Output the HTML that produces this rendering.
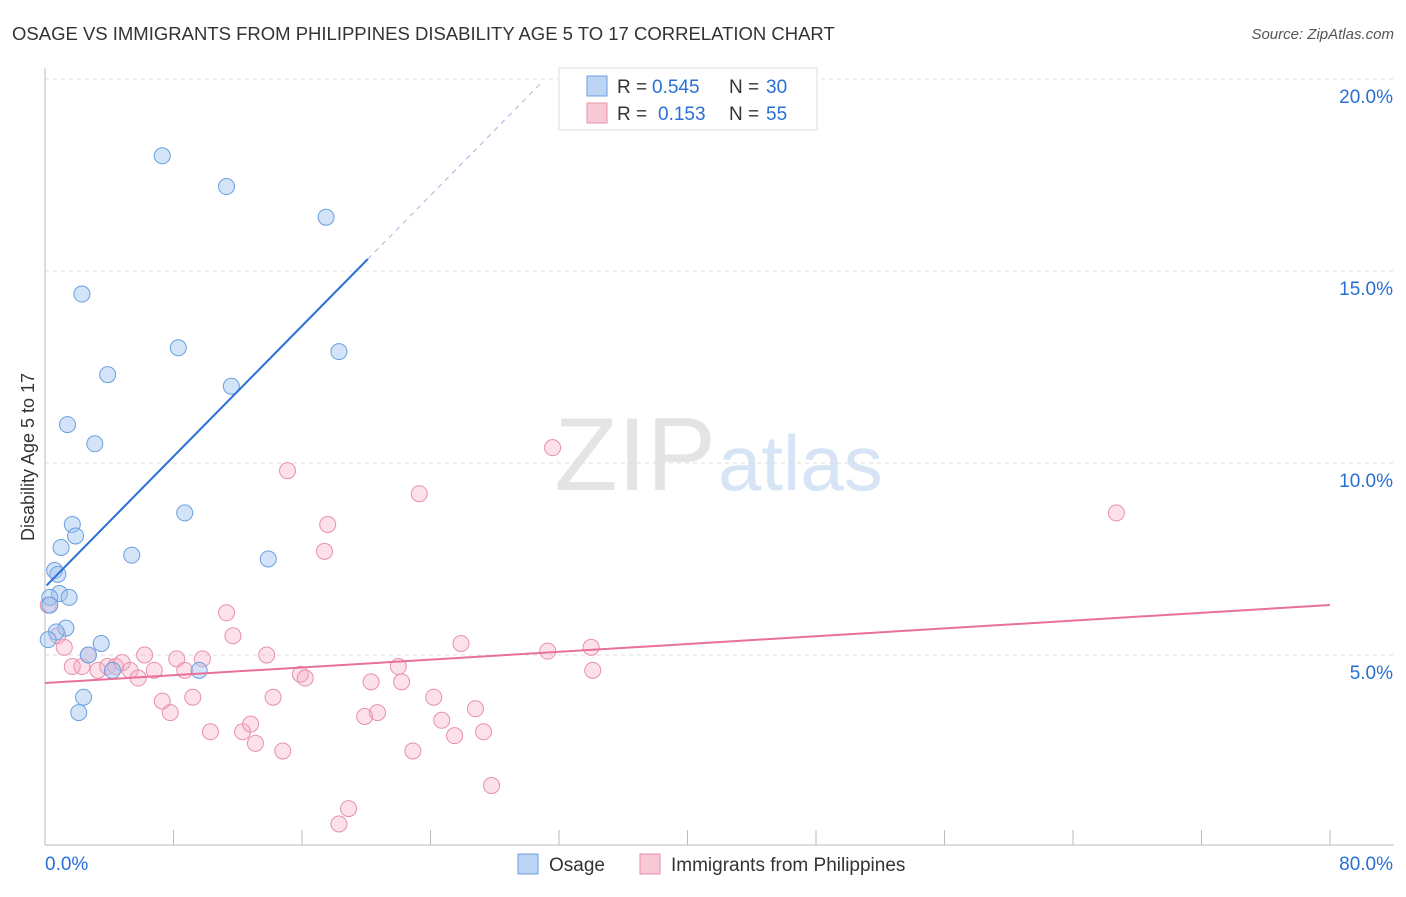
<!DOCTYPE html>
<html><head><meta charset="utf-8"><style>
body{margin:0;background:#fff;font-family:"Liberation Sans",sans-serif;}
svg text{font-family:"Liberation Sans",sans-serif;}
</style></head><body>
<svg id="c" width="1406" height="892" xmlns="http://www.w3.org/2000/svg">
<text x="12" y="40" font-size="18.5" fill="#333">OSAGE VS IMMIGRANTS FROM PHILIPPINES DISABILITY AGE 5 TO 17 CORRELATION CHART</text>
<text x="1394" y="39" font-size="15" fill="#555" font-style="italic" text-anchor="end">Source: ZipAtlas.com</text>
<text x="716" y="490" font-size="104" fill="#e4e4e4" font-family="Liberation Serif" text-anchor="end">ZIP</text>
<text x="718" y="490" font-size="78" fill="#d6e4f5">atlas</text>
<g id="grid"></g><g id="axes"></g><g id="marks"></g>
<g>
<rect x="559" y="68" width="258" height="62" fill="#fff" stroke="#ddd"/>
<rect x="587" y="76" width="20" height="20" fill="#bcd5f5" stroke="#6a9fe0"/>
<text x="617" y="93" font-size="19" fill="#333">R = </text><text x="652" y="93" font-size="19" fill="#2a6fd6">0.545</text>
<text x="729" y="93" font-size="19" fill="#333">N = </text><text x="766" y="93" font-size="19" fill="#2a6fd6">30</text>
<rect x="587" y="103" width="20" height="20" fill="#f9c8d7" stroke="#e890ab"/>
<text x="617" y="120" font-size="19" fill="#333">R = </text><text x="658" y="120" font-size="19" fill="#2a6fd6">0.153</text>
<text x="729" y="120" font-size="19" fill="#333">N = </text><text x="766" y="120" font-size="19" fill="#2a6fd6">55</text>
</g>
<g>
<rect x="518" y="854" width="20" height="20" fill="#bcd5f5" stroke="#6a9fe0"/>
<text x="549" y="871" font-size="19" fill="#333">Osage</text>
<rect x="640" y="854" width="20" height="20" fill="#f9c8d7" stroke="#e890ab"/>
<text x="671" y="871" font-size="19" fill="#333">Immigrants from Philippines</text>
</g>
<text transform="translate(34,457) rotate(-90)" font-size="18" fill="#333" text-anchor="middle">Disability Age 5 to 17</text>
</svg>
<script>
const yTicks=[5,10,15,20];
const yTickLabels=["5.0%","10.0%","15.0%","20.0%"];
const xTickVals=[0,8,16,24,32,40,48,56,64,72,80];
const osageX=[7.3,11.3,17.5,2.3,8.3,18.3,3.9,11.6,1.4,3.1,8.7,1.7,1.9,1.0,5.4,13.9,0.6,0.8,0.9,1.5,0.3,0.3,1.3,0.7,0.2,3.5,2.7,4.2,9.6,2.4,2.1];
const osageY=[18.0,17.2,16.4,14.4,13.0,12.9,12.3,12.0,11.0,10.5,8.7,8.4,8.1,7.8,7.6,7.5,7.2,7.1,6.6,6.5,6.5,6.3,5.7,5.6,5.4,5.3,5.0,4.6,4.6,3.9,3.5];
const phX=[0.2,0.8,1.2,1.7,2.3,2.7,3.3,3.9,4.4,4.8,5.3,5.8,6.2,6.8,7.3,7.8,8.2,8.7,9.2,9.8,10.3,11.3,11.7,12.3,12.8,13.1,13.8,14.2,14.8,15.1,15.9,16.2,17.4,17.6,18.3,18.9,19.9,20.3,20.7,22.0,22.2,22.9,23.3,24.2,24.7,25.5,25.9,26.8,27.3,27.8,31.3,31.6,34.0,34.1,66.7];
const phY=[6.3,5.5,5.2,4.7,4.7,5.0,4.6,4.7,4.7,4.8,4.6,4.4,5.0,4.6,3.8,3.5,4.9,4.6,3.9,4.9,3.0,6.1,5.5,3.0,3.2,2.7,5.0,3.9,2.5,9.8,4.5,4.4,7.7,8.4,0.6,1.0,3.4,4.3,3.5,4.7,4.3,2.5,9.2,3.9,3.3,2.9,5.3,3.6,3.0,1.6,5.1,10.4,5.2,4.6,8.7];
const blueLine=[0.1,6.77,0.425,20.1,31];
const pinkLine=[0,4.27,0.0254,80];
const X=v=>45+v/80*1285, Y=v=>847-v*38.4;
const NS="http://www.w3.org/2000/svg";
function mk(p,t,a){const e=document.createElementNS(NS,t);for(const k in a)e.setAttribute(k,a[k]);document.getElementById(p).appendChild(e);return e;}
yTicks.forEach((v,i)=>{
 const l=mk("grid","line",{x1:45,x2:1394,y1:Y(v),y2:Y(v),stroke:"#ddd","stroke-dasharray":"4,4"});
 
 
 const t=mk("grid","text",{x:1393,y:Y(v)+24,"font-size":19,fill:"#2a6fd6","text-anchor":"end"});t.textContent=yTickLabels[i];
 
 
});
const gt=mk("grid","line",{x1:45,x2:1394,y1:79,y2:79,stroke:"#ddd","stroke-dasharray":"4,4"});


const ya=mk("axes","line",{x1:45,x2:45,y1:68,y2:845,stroke:"#bbb"});


const xa=mk("axes","line",{x1:45,x2:1394,y1:845,y2:845,stroke:"#bbb"});


xTickVals.forEach(v=>{const l=mk("axes","line",{x1:X(v),x2:X(v),y1:830,y2:845,stroke:"#bbb"});
 
 });
const x0=mk("axes","text",{x:45,y:870,"font-size":19,fill:"#2a6fd6"});x0.textContent="0.0%";


const x1=mk("axes","text",{x:1393,y:870,"font-size":19,fill:"#2a6fd6","text-anchor":"end"});x1.textContent="80.0%";


phX.forEach((v,i)=>{const c=mk("marks","circle",{cx:X(v),cy:Y(phY[i]),r:8,fill:"rgba(245,170,195,0.35)",stroke:"#e890ab","stroke-width":1});
 
 });
osageX.forEach((v,i)=>{const c=mk("marks","circle",{cx:X(v),cy:Y(osageY[i]),r:8,fill:"rgba(160,195,240,0.45)",stroke:"#6a9fe0","stroke-width":1});
 
 });
const [b0,bi,bs,b1,b2]=blueLine;
const bl=mk("marks","line",{x1:X(b0),y1:Y(bi+bs*b0),x2:X(b1),y2:Y(bi+bs*b1),stroke:"#2a6fd6","stroke-width":2});


const bd=mk("marks","line",{x1:X(b1),y1:Y(bi+bs*b1),x2:X(b2),y2:Y(bi+bs*b2),stroke:"#9bb8e0","stroke-width":1,"stroke-dasharray":"5,5"});


const [p0,pi,ps,p1]=pinkLine;
const pl=mk("marks","line",{x1:X(p0),y1:Y(pi+ps*p0),x2:X(p1),y2:Y(pi+ps*p1),stroke:"#e8709a","stroke-width":2});


</script>
</body></html>
